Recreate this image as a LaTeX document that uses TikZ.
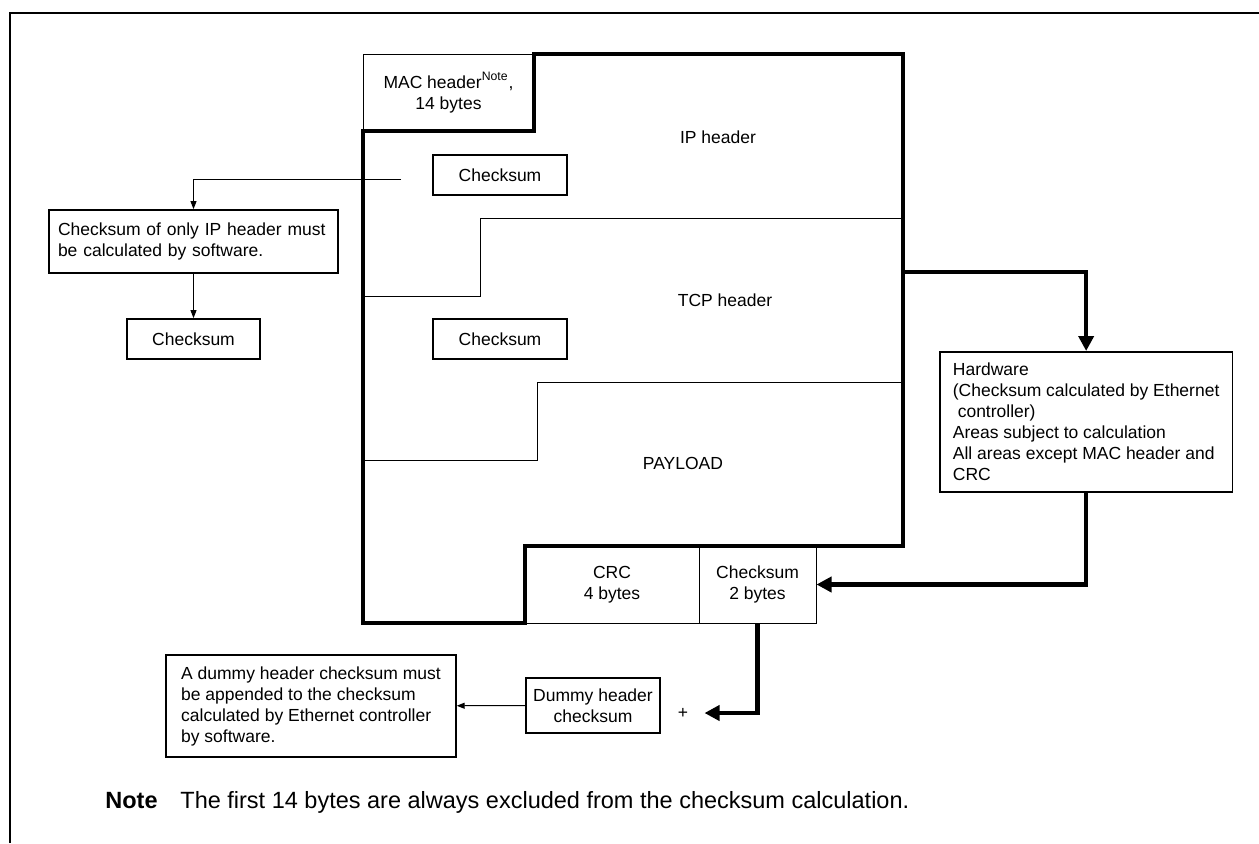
\documentclass[tikz,border=0pt]{standalone}
\usepackage{fontspec}
\setmainfont{Liberation Sans}
\usetikzlibrary{arrows.meta}

\begin{document}
\begin{tikzpicture}[x=0.5pt,y=-0.5pt,
  every node/.style={font=\fontsize{8.75}{10.5}\selectfont, inner sep=0pt},
  box/.style={draw, line width=0.9pt},
  sep/.style={line width=0.5pt},
  outline/.style={line width=2pt, line join=miter},
  fine/.style={line width=0.5pt, -{Triangle[length=4pt,width=3pt]}},
  heavy/.style={line width=2.2pt, line join=miter, -{Triangle[length=7.5pt,width=7.5pt]}}]
\useasboundingbox (0,0) rectangle (1259,843);
% page frame
\draw[line width=1.4pt] (10,843) -- (10,13) -- (1259,13);

% frame cells under the heavy outline
\node[draw, sep, minimum width=85.5pt, minimum height=38.5pt, align=center] (mac) at (448.5,92.5) {MAC header\textsuperscript{Note},\\14 bytes};
\node[draw, sep, minimum width=87pt, minimum height=38.5pt, align=center] (crc) at (612,584.5) {CRC\\4 bytes};
\node[draw, sep, minimum width=58.5pt, minimum height=38.5pt, align=center] (cs2) at (757.5,584.5) {Checksum\\2 bytes};

% area subject to hardware checksum
\draw[outline] (534,54) -- (903,54) -- (903,546) -- (525,546) -- (525,623) -- (363,623) -- (363,131) -- (534,131) -- cycle;
\draw[sep] (363,296) -- (480,296) -- (480,218) -- (903,218);
\draw[sep] (363,460) -- (537,460) -- (537,382) -- (903,382);

\node (iphdr) at (718,137) {IP header};
\node (tcphdr) at (725,300) {TCP header};
\node (payload) at (683,463) {PAYLOAD};
\node[box, minimum width=67pt, minimum height=20pt] (ipcs) at (500,175) {Checksum};
\node[box, minimum width=67pt, minimum height=20pt] (tcpcs) at (500,339) {Checksum};

% software side
\coordinate (iptap) at (401,179);
\node[box, text width=135.5pt, inner xsep=4.5pt, minimum height=31.5pt, align=left] (swnote) at (193.5,241.5) {Checksum of only IP header must be calculated by software.};
\node[box, minimum width=66.5pt, minimum height=20pt] (swcs) at (193.5,339) {Checksum};
\draw[fine] (iptap) -| (swnote.north);
\draw[fine] (swnote) -- (swcs);

% hardware side
\coordinate (hwtap) at (903,272);
\node[box, anchor=north west, inner xsep=6.5pt, minimum height=70pt, align=left] (hw) at (939,351) {Hardware\\(Checksum calculated by Ethernet\\\ controller)\\Areas subject to calculation\\All areas except MAC header and\\CRC};
\draw[heavy] (hwtap) -| (hw.north);
\draw[heavy] (hw.south) |- (cs2.east);

% dummy header
\node[box, minimum width=67pt, minimum height=27.5pt, align=center] (dummy) at (593,705.5) {Dummy header\\checksum};
\node (plus) at (683,713) {+};
\node[box, inner xsep=7.5pt, minimum height=51pt, align=left] (append) at (311,706) {A dummy header checksum must\\be appended to the checksum\\calculated by Ethernet controller\\by software.};
\draw[heavy] (cs2.south) |- ([xshift=8pt]plus.east);
\draw[fine] (dummy) -- (append);

\node[anchor=base west, font=\fontsize{11.75}{14}\selectfont\bfseries] (notehd) at (105,808) {Note};
\node[anchor=base west, font=\fontsize{11.75}{14}\selectfont] (notetx) at (180,808) {The first 14 bytes are always excluded from the checksum calculation.};
\end{tikzpicture}
\end{document}
